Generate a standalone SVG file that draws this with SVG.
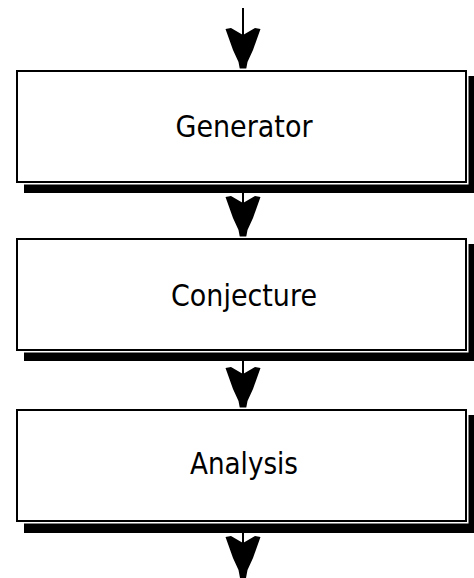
<svg xmlns="http://www.w3.org/2000/svg" width="474" height="578" viewBox="0 0 474 578">
  <style>
    .shadow { fill: #000; }
    .halo { fill: #fff; stroke: #fff; stroke-width: 5; }
    .box { fill: #fff; stroke: #000; stroke-width: 2; }
    .label { font-family: "DejaVu Sans", "Liberation Sans", sans-serif; font-size: 31px; fill: #000; text-anchor: middle; }
    .flow { stroke: #000; stroke-width: 2; fill: none; marker-end: url(#head); }
  </style>
  <defs>
    <!-- barbed arrowhead, tip at the origin, pointing along +x -->
    <marker id="head" markerUnits="userSpaceOnUse" viewBox="-43 -19 44 38" markerWidth="44" markerHeight="38" refX="0" refY="0" orient="auto">
      <path d="M-41,-17.5 L-42,-12 L-35,0 L-42,12 L-41,17.5 L-20,10 L-8,4.5 L0,3 L0,-3 L-8,-4.5 L-20,-10 Z" fill="#000"/>
    </marker>
  </defs>

  <g id="connectors">
    <line class="flow" x1="243" y1="8" x2="243" y2="70"/>
    <line class="flow" x1="243" y1="193" x2="243" y2="238"/>
    <line class="flow" x1="243" y1="361" x2="243" y2="409"/>
    <line class="flow" x1="243" y1="533" x2="243" y2="578"/>
  </g>

  <g id="generator">
    <rect class="shadow" x="24" y="76" width="460" height="117"/>
    <rect class="halo" x="17" y="71" width="449" height="111"/>
    <rect class="box" x="17" y="71" width="449" height="111"/>
    <text class="label" x="244" y="137" textLength="137" lengthAdjust="spacingAndGlyphs">Generator</text>
  </g>

  <g id="conjecture">
    <rect class="shadow" x="24" y="244" width="460" height="117"/>
    <rect class="halo" x="17" y="239" width="449" height="111"/>
    <rect class="box" x="17" y="239" width="449" height="111"/>
    <text class="label" x="244" y="306" textLength="146" lengthAdjust="spacingAndGlyphs">Conjecture</text>
  </g>

  <g id="analysis">
    <rect class="shadow" x="24" y="415" width="460" height="118"/>
    <rect class="halo" x="17" y="410" width="449" height="111"/>
    <rect class="box" x="17" y="410" width="449" height="111"/>
    <text class="label" x="244" y="474" textLength="108" lengthAdjust="spacingAndGlyphs">Analysis</text>
  </g>
</svg>
